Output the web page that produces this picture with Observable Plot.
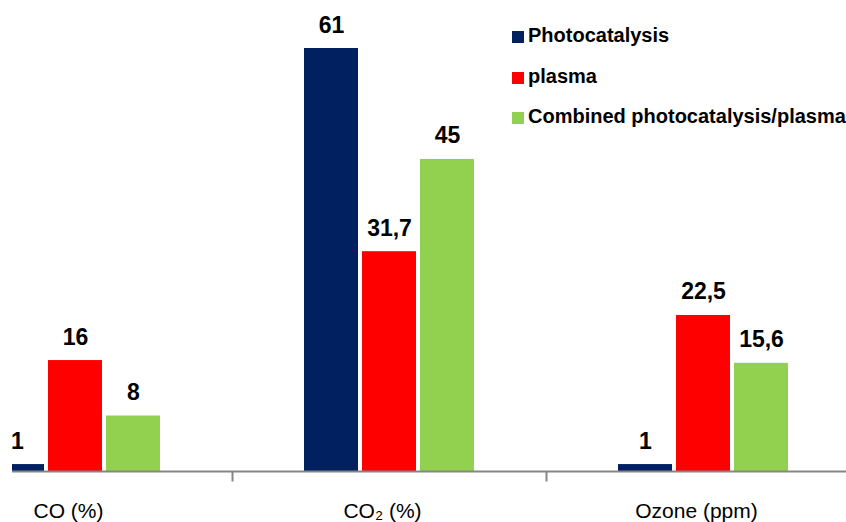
<!DOCTYPE html>
<html>
<head>
<meta charset="utf-8">
<script src="https://cdn.jsdelivr.net/npm/d3@7"></script>
<script src="https://cdn.jsdelivr.net/npm/@observablehq/plot@0.6"></script>
<style>
  body { margin: 0; background: #fff; font-family: "Liberation Sans", Arial, sans-serif; }
  #wrap { position: relative; width: 846px; height: 522px; overflow: hidden; }
  #wrap svg { position: absolute; left: 0; top: 0; clip-path: inset(0 0 0 12px); }
  #legend { position: absolute; left: 512px; top: 24px; }
  .row { position: relative; height: 40.5px; white-space: nowrap; }
  .sw { position: absolute; left: 0; top: 7px; width: 12px; height: 12px; }
  .lb { position: absolute; left: 16px; top: 0; font-weight: bold; font-size: 20px; line-height: 23px; color: #000; }
</style>
</head>
<body>
<div id="wrap"></div>
<script>
const categories = ["CO (%)", "CO\u2082 (%)", "Ozone (ppm)"];
const series = ["Photocatalysis", "plasma", "Combined photocatalysis/plasma"];
const photocatalysis = [1, 61, 1];
const plasma = [16, 31.7, 22.5];
const combined = [8, 45, 15.6];
const colors = ["#002060", "#FF0000", "#92D050"];

const values = [photocatalysis, plasma, combined];
const data = [];
categories.forEach((c, i) => {
  series.forEach((s, j) => data.push({category: c, series: s, value: values[j][i]}));
});
const fmt = d => String(d).replace(".", ",");

const tickShape = { draw(ctx) { ctx.moveTo(0, 0); ctx.lineTo(0, 10); } };

const chart = Plot.plot({
  width: 846,
  height: 522,
  marginTop: 48,
  marginBottom: 51,
  marginLeft: 0,
  marginRight: 0,
  style: { fontFamily: "'Liberation Sans', Arial, sans-serif", fontSize: "21px", color: "#000", background: "transparent" },
  fx: { domain: categories, range: [-82, 860], padding: 0, axis: null },
  x: { domain: series, paddingInner: 0.075, paddingOuter: 1.24, axis: null },
  y: { domain: [0, 61], axis: null },
  color: { domain: series, range: colors },
  marks: [
    Plot.barY(data, { fx: "category", x: "series", y: "value", fill: "series" }),
    Plot.ruleY([0], { stroke: "#868686", strokeWidth: 2 }),
    Plot.dot([0], { frameAnchor: "bottom-left", symbol: tickShape, stroke: "#868686", strokeWidth: 2, fill: "none" }),
    Plot.text(categories, { fx: d => d, text: d => d, frameAnchor: "bottom", lineAnchor: "bottom", dy: 46, dx: -7, fontSize: 21, fill: "#000" }),
    Plot.text(data, { fx: "category", x: "series", y: "value", text: d => fmt(d.value), lineAnchor: "bottom", dy: -16, fontSize: 23, fontWeight: "bold", fill: "#000" })
  ]
});
document.getElementById("wrap").appendChild(chart);

const legend = document.createElement("div");
legend.id = "legend";
series.forEach((s, i) => {
  const row = document.createElement("div");
  row.className = "row";
  const sw = document.createElement("div");
  sw.className = "sw";
  sw.style.background = colors[i];
  const lb = document.createElement("div");
  lb.className = "lb";
  lb.textContent = s;
  row.appendChild(sw);
  row.appendChild(lb);
  legend.appendChild(row);
});
document.getElementById("wrap").appendChild(legend);
</script>
</body>
</html>
